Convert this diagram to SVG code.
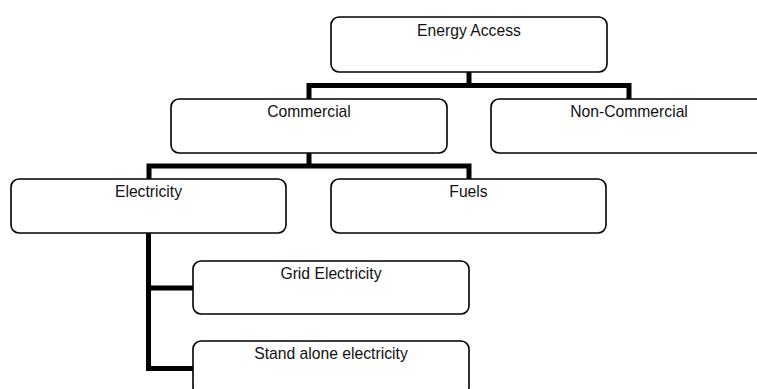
<svg xmlns="http://www.w3.org/2000/svg" width="757" height="389" viewBox="0 0 757 389">
  <style>
    .box { fill: #ffffff; stroke: #000000; stroke-width: 1.6; }
    .label { font-family: "Liberation Sans", Arial, sans-serif; font-size: 15.7px; fill: #111111; text-anchor: middle; }
    .wire { fill: none; stroke: #000000; stroke-width: 5; stroke-linejoin: miter; stroke-linecap: butt; }
  </style>
  <rect width="757" height="389" fill="#ffffff"/>

  <!-- tree connectors -->
  <g id="connectors">
    <path class="wire" d="M469,72 V85.5"/>
    <path class="wire" d="M309,99 V85.5 H629 V99"/>
    <path class="wire" d="M309,153 V166"/>
    <path class="wire" d="M149,179 V166 H469 V179"/>
    <path class="wire" d="M148.5,233 V368.5 H193"/>
    <path class="wire" d="M148.5,288 H193"/>
  </g>

  <g id="energy-access">
    <rect class="box" x="331" y="17" width="276" height="55" rx="8"/>
    <text class="label" x="469" y="36">Energy Access</text>
  </g>

  <g id="commercial">
    <rect class="box" x="171" y="99" width="276" height="54" rx="8"/>
    <text class="label" x="309" y="117">Commercial</text>
  </g>

  <g id="non-commercial">
    <rect class="box" x="491" y="99" width="276" height="54" rx="8"/>
    <text class="label" x="629" y="117">Non-Commercial</text>
  </g>

  <g id="electricity">
    <rect class="box" x="11" y="179" width="275" height="54" rx="8"/>
    <text class="label" x="148.5" y="197">Electricity</text>
  </g>

  <g id="fuels">
    <rect class="box" x="331" y="179" width="275" height="54" rx="8"/>
    <text class="label" x="468.5" y="197">Fuels</text>
  </g>

  <g id="grid-electricity">
    <rect class="box" x="193" y="261" width="276" height="53" rx="8"/>
    <text class="label" x="331" y="279">Grid Electricity</text>
  </g>

  <g id="stand-alone-electricity">
    <rect class="box" x="193" y="341" width="276" height="54" rx="8"/>
    <text class="label" x="331" y="359">Stand alone electricity</text>
  </g>
</svg>
